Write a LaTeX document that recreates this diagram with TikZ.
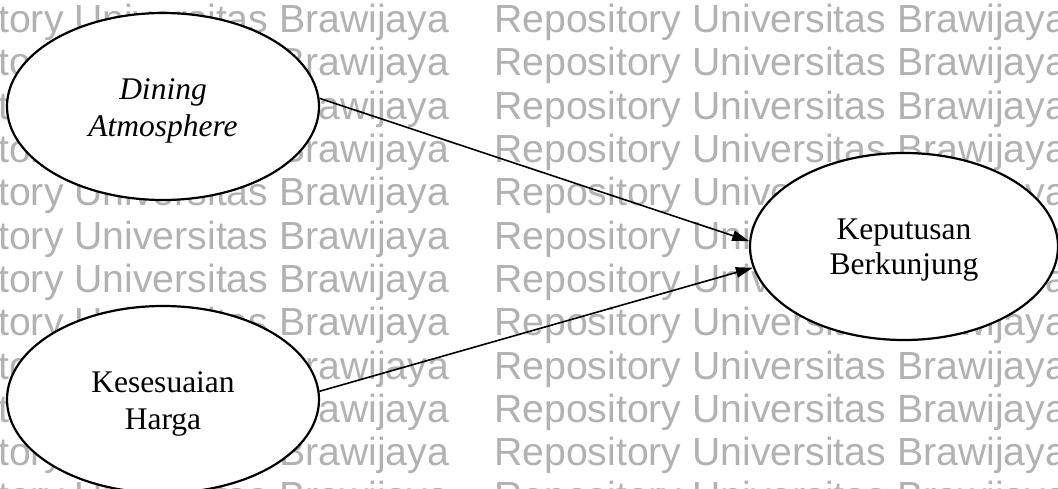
\documentclass[tikz,border=0pt]{standalone}
\usepackage{fontspec}
\setmainfont{Liberation Serif}
\newfontfamily\wmfont{Liberation Sans}
\usetikzlibrary{shapes.geometric,arrows.meta}
\definecolor{wmgray}{RGB}{178,178,178}
\begin{document}
\begin{tikzpicture}[x=1pt,y=-1pt,
  wm/.style={text=wmgray,font=\wmfont\fontsize{39.2}{43}\selectfont,inner sep=0pt,anchor=base west},
  oval/.style={ellipse,draw=black,fill=white,line width=2.2pt,inner sep=0pt,minimum height=187pt},
  ovaltext/.style={align=center,inner sep=0pt,font=\fontsize{31.5}{36}\selectfont},
  link/.style={line width=1.6pt,-{Triangle[length=17pt,width=10.5pt]}}]

% page
\fill[white] (0,0) rectangle (1058,489);
\useasboundingbox (0,0) rectangle (1058,489);

% repository watermark, two columns of repeated lines
\foreach \k in {0,...,11}{
  \node[wm] (wmL\k) at ({-123.9},{32.7+43.3*\k}) {Repository Universitas Brawijaya};
  \node[wm] (wmR\k) at ({494},{32.7+43.3*\k}) {Repository Universitas Brawijaya};
}

% constructs
\node[oval,minimum width=312pt] (dining) at (163,106.5) {};
\node[ovaltext,font=\fontsize{31.5}{37}\selectfont\itshape] (dining-t)
  at ([yshift=-4pt]dining.center) {Dining\\Atmosphere};

\node[oval,minimum width=312pt] (harga) at (163,399.5) {};
\node[ovaltext,font=\fontsize{31.5}{37}\selectfont] (harga-t)
  at ([yshift=-4pt]harga.center) {Kesesuaian\\Harga};

\node[oval,minimum width=308pt] (keputusan) at (904,246.5) {};
\node[ovaltext,font=\fontsize{31.5}{35}\selectfont] (keputusan-t)
  at ([yshift=-4pt]keputusan.center) {Keputusan\\Berkunjung};

% paths
\draw[link] (dining.3) -- (keputusan.178);
\draw[link] (harga.3.2) -- (keputusan.188.5);
\end{tikzpicture}
\end{document}
